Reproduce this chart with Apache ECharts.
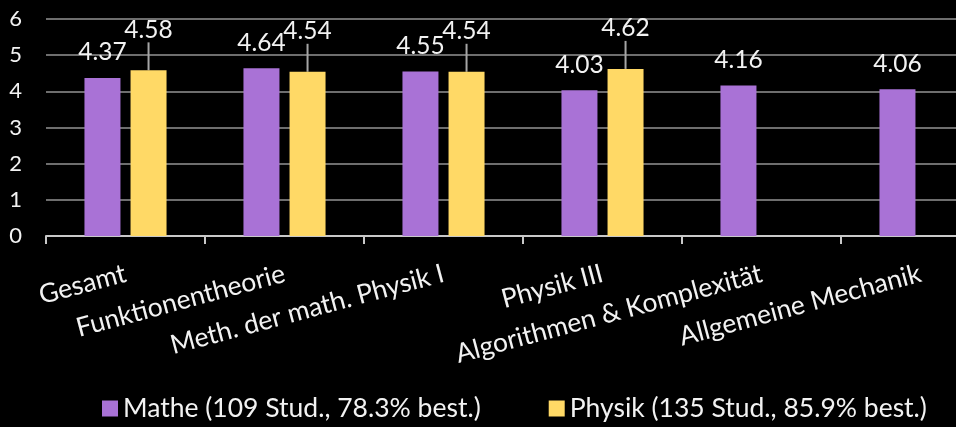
<!DOCTYPE html>
<html lang="de">
<head>
    <meta charset="UTF-8">
    <title>Bewertung</title>
    <script src="https://cdn.jsdelivr.net/npm/echarts@6/dist/echarts.min.js"></script>
    <style>
        html, body { margin: 0; padding: 0; background: #000; overflow: hidden; }
    </style>
</head>
<body>
<!-- the plot runs past the right edge, as in the original picture -->
<div id="main" style="width: 1000px;height:427px;"></div>
<script type="text/javascript">
    // Daten
    var categories = ['Gesamt', 'Funktionentheorie', 'Meth. der math. Physik I', 'Physik III',
        'Algorithmen & Komplexität', 'Allgemeine Mechanik'];
    var matheValues = [4.37, 4.64, 4.55, 4.03, 4.16, 4.06];
    var physikValues = [4.58, 4.54, 4.54, 4.62, null, null];
    var seriesNames = ['Mathe (109 Stud., 78.3% best.)', 'Physik (135 Stud., 85.9% best.)'];
    var yTicks = [0, 1, 2, 3, 4, 5, 6];

    var font = 'Lato, "Open Sans", sans-serif';
    var myChart = echarts.init(document.getElementById('main'));
    myChart.setOption({
        backgroundColor: '#000',
        animation: false,
        grid: { left: 46, right: 0, top: 19, bottom: 191 },
        legend: {
            bottom: 0,
            left: 97,
            itemWidth: 16,
            itemHeight: 16,
            itemGap: 68,
            icon: 'rect',
            textStyle: { color: '#f2f2f2', fontSize: 26.5, fontFamily: font },
            data: seriesNames
        },
        xAxis: {
            type: 'category',
            data: categories,
            axisLine: { lineStyle: { color: '#c8c8c8', width: 2 } },
            axisTick: { show: true, length: 8, lineStyle: { color: '#c8c8c8', width: 2 } },
            axisLabel: {
                interval: 0,
                rotate: 15,
                margin: 37,
                color: '#f2f2f2',
                fontSize: 26.5,
                fontFamily: font
            }
        },
        yAxis: {
            type: 'value',
            min: yTicks[0],
            max: yTicks[yTicks.length - 1],
            interval: 1,
            axisLine: { show: false },
            axisTick: { show: false },
            splitLine: { lineStyle: { color: '#6e6e6e', width: 2 } },
            axisLabel: { color: '#f2f2f2', fontSize: 22, fontFamily: font, margin: 24 }
        },
        series: [
            {
                name: seriesNames[0],
                type: 'bar',
                data: matheValues,
                barWidth: 36,
                barGap: '28%',
                itemStyle: { color: '#a972d6' },
                label: {
                    show: true, position: 'top', distance: 13,
                    color: '#f2f2f2', fontSize: 24.5, fontFamily: font,
                    formatter: function (p) { return p.value.toFixed(2); }
                }
            },
            {
                name: seriesNames[1],
                type: 'bar',
                data: physikValues,
                barWidth: 36,
                itemStyle: { color: '#ffd966' },
                label: {
                    show: true, position: 'top', distance: 4,
                    color: '#f2f2f2', fontSize: 24.5, fontFamily: font,
                    formatter: function (p) { return p.value.toFixed(2); }
                },
                labelLayout: { dy: -24 },
                labelLine: { show: true, lineStyle: { color: '#a6a6a6', width: 2 } }
            }
        ]
    });
</script>
</body>
</html>
